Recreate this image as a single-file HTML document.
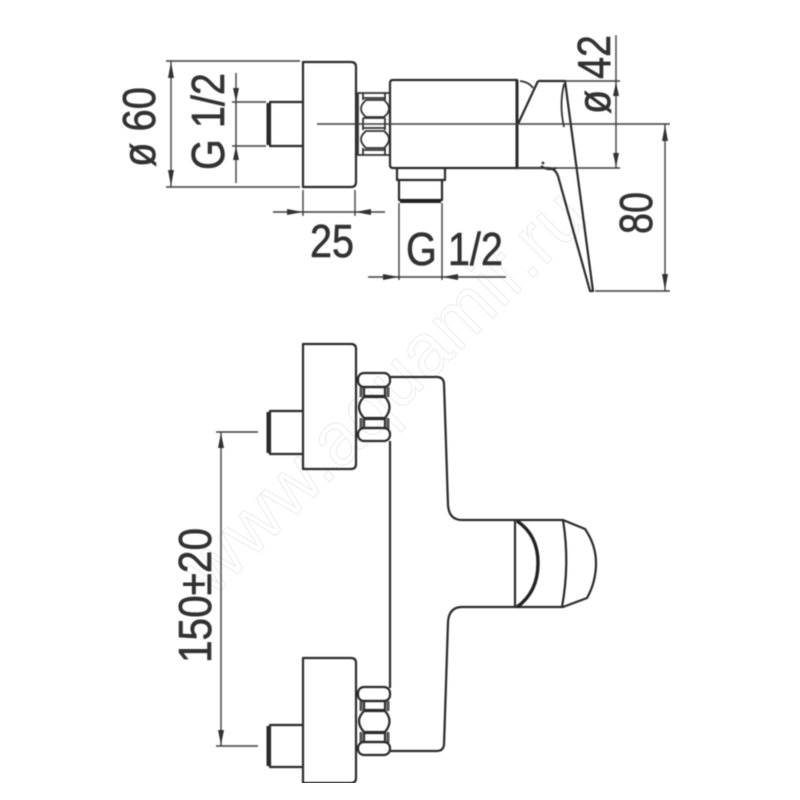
<!DOCTYPE html>
<html><head><meta charset="utf-8"><style>
html,body{margin:0;padding:0;background:#fff;width:800px;height:800px;overflow:hidden}
svg{display:block}
text{font-family:"Liberation Sans",sans-serif;fill:#333;stroke:#333;stroke-width:.6;font-size:46px}
.l{fill:none;stroke:#2a2a2a;stroke-width:2.2;stroke-linejoin:round}
.t{fill:none;stroke:#333;stroke-width:1.8}
.g{fill:none;stroke:#555;stroke-width:3}
.d{fill:none;stroke:#3c3c3c;stroke-width:1.4}
.a{fill:#333;stroke:none}
text.w{fill:#fff;stroke:#efefef;stroke-width:1.2;font-size:76px;letter-spacing:1px}
</style></head><body>
<svg width="800" height="800" viewBox="0 0 800 800" xmlns="http://www.w3.org/2000/svg">
<defs><filter id="b" x="0" y="0" width="100%" height="100%"><feGaussianBlur stdDeviation="0.5"/></filter></defs>
<text class="w" transform="translate(213,598) rotate(-45)" textLength="535" lengthAdjust="spacingAndGlyphs">www.aquamir.ru</text>
<g filter="url(#b)">
<!-- TOP VIEW -->
<path class="l" d="M303 62H351Q356 62 356 67V182Q356 187 351 187H303Z"/>
<path class="l" d="M303 102H270V146H303"/>
<path class="l" style="stroke-width:3" d="M268 103V145"/>
<!-- nut top -->
<g class="t">
<path d="M358 93H390V155H358ZM363 93V100M385 93V100M363 118V130M385 118V130M363 148V155M385 148V155M363 98H385M363 150H385M363 118H385M363 128H385"/>
<path d="M366 100H384Q394 109 384 117H366Q356 109 366 100ZM366 131H384Q394 139 384 148H366Q356 139 366 131Z"/>
</g>
<path class="l" d="M390 83Q390 80 393 80H517V168H393Q390 168 390 165Z"/>
<path class="l" style="stroke-width:3" d="M517 80V168"/>
<!-- outlet -->
<path class="l" d="M397 168V180H445V168M399 180V200H442V180"/>
<path style="stroke:#222;stroke-width:4;fill:none" d="M400 201H441"/>
<!-- handle -->
<path class="l" d="M538 81H565L593 291H590L558 176Q555 168 548 168H517"/>
<path class="l" d="M538 81L518 124"/>
<path class="t" d="M520 81Q529 82 533 88"/>
<path class="t" d="M564 84Q559 105 564 127"/>
<path class="l" d="M541 166Q548 171 556 168"/>
<circle cx="543" cy="163" r="1.4" fill="#333"/>
<!-- centre line -->
<path class="d" d="M317 124H670"/>
<!-- dim ø60 -->
<path class="d" d="M166 61H300M166 187H300M171 61V187"/>
<path class="a" d="M171 62L168 78H174ZM171 186L168 170H174Z"/>
<!-- dim G1/2 left -->
<path class="d" d="M232 102H266M232 146H266M236 73V183"/>
<path class="a" d="M236 102L233 88H239ZM236 146L233 160H239Z"/>
<!-- dim 25 -->
<path class="d" d="M303 190V216M355 190V216M273 212H385"/>
<path class="a" d="M303 212L287 209V215ZM355 212L371 209V215Z"/>
<!-- dim G1/2 bottom -->
<path class="d" d="M399 203V280M442 203V280M368 277H506"/>
<path class="a" d="M399 277L383 274V280ZM442 277L458 274V280Z"/>
<!-- dim ø42 -->
<path class="d" d="M565 81H620M517 168H620M616 35V168"/>
<path class="a" d="M616 82L613 96H619ZM616 167L613 153H619Z"/>
<!-- dim 80 -->
<path class="d" d="M595 291H670M665 124V291"/>
<path class="a" d="M665 125L662 141H668ZM665 290L662 274H668Z"/>
<!-- LOWER VIEW -->
<path class="l" d="M303 344H351Q356 344 356 349V464Q356 469 351 469H303Z"/>
<path class="l" d="M303 411H270V454H303"/>
<path class="l" style="stroke-width:3" d="M268 412V453"/>
<path class="l" d="M303 658H351Q356 658 356 663V778Q356 783 351 783H303Z"/>
<path class="l" d="M303 725H270V767H303"/>
<path class="l" style="stroke-width:3" d="M268 726V766"/>
<!-- nut 1 -->
<path class="g" d="M361 387V397M361 418V429M388 387V397M388 418V429"/>
<g class="l">
<rect x="358" y="373" width="32" height="14" rx="6"/>
<rect x="358" y="428" width="32" height="13" rx="6"/>
<rect x="364" y="387" width="21" height="9"/>
<rect x="364" y="419" width="21" height="9"/>
<path d="M364 397H385Q394 407 385 418H364Q354 407 364 397Z"/>
</g>
<!-- nut 2 -->
<path class="g" d="M361 701V711M361 732V743M388 701V711M388 732V743"/>
<g class="l">
<rect x="358" y="687" width="32" height="14" rx="6"/>
<rect x="358" y="742" width="32" height="13" rx="6"/>
<rect x="364" y="701" width="21" height="9"/>
<rect x="364" y="733" width="21" height="9"/>
<path d="M364 711H385Q394 721 385 732H364Q354 721 364 711Z"/>
</g>
<!-- body -->
<path class="l" d="M390 377H437Q443 377 444 383L448 505Q449 520 462 520H563L585 529Q596 545 596 563Q596 582 587 598L563 607H462Q449 607 448 622L444 745Q443 751 437 751H390"/>
<path class="l" d="M390 441V688"/>
<path class="l" d="M515 520V607"/>
<path style="fill:none;stroke:#222;stroke-width:3.4" d="M517 521Q538 535 538 563Q538 592 517 607"/>
<path class="l" d="M563 520Q570 563 562 607"/>
<!-- dim 150 -->
<path class="d" d="M216 432H258M216 746H258M221 432V746"/>
<path class="a" d="M221 433L218 448H224ZM221 745L218 730H224Z"/>
<!-- LABELS -->
<text transform="translate(155,167) rotate(-90)" textLength="80" lengthAdjust="spacingAndGlyphs">ø 60</text>
<text transform="translate(224,170) rotate(-90)" textLength="97" lengthAdjust="spacingAndGlyphs">G 1/2</text>
<text x="310" y="257" textLength="44" lengthAdjust="spacingAndGlyphs">25</text>
<text x="406" y="265" textLength="97" lengthAdjust="spacingAndGlyphs">G 1/2</text>
<text transform="translate(652,234) rotate(-90)" textLength="42" lengthAdjust="spacingAndGlyphs">80</text>
<text transform="translate(610,114) rotate(-90)" textLength="79" lengthAdjust="spacingAndGlyphs">ø 42</text>
<text transform="translate(211,663) rotate(-90)" textLength="135" lengthAdjust="spacingAndGlyphs">150±20</text>
</g>
</svg>
</body></html>
